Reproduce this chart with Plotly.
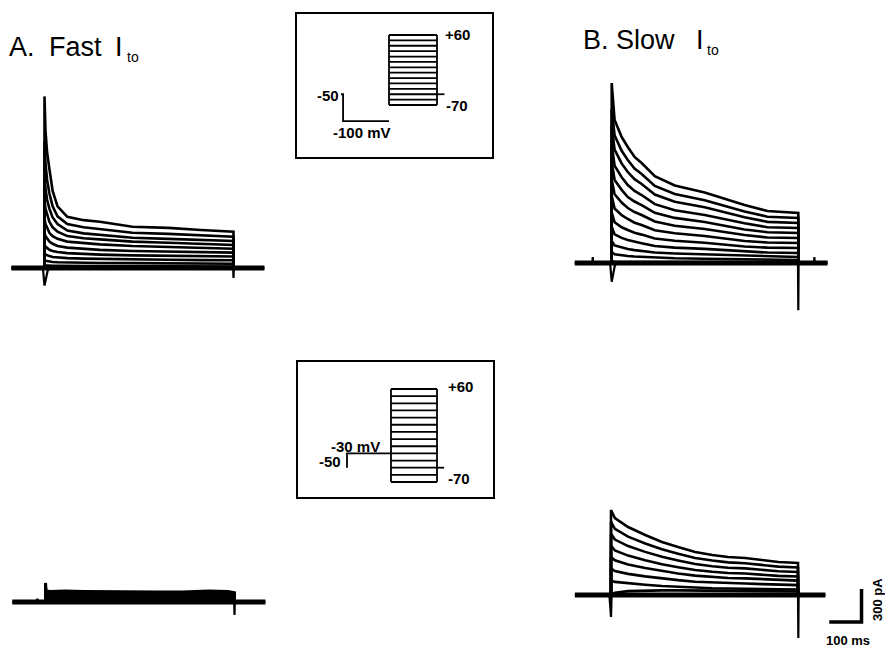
import plotly.graph_objects as go

W, H = 885, 647

# ---------------- data ----------------
STEP_MS = 580

# A. Fast Ito, top family (pA) on the time grid below (ms)
fastA_t_ms = [0, 3, 8, 15, 25, 40, 70, 120, 170, 270, 380, 480, 580]
fastA_pA = [
    [1560, 1250, 1050, 900, 700, 560, 465, 435, 420, 375, 365, 345, 330],
    [1150, 950, 800, 680, 560, 470, 400, 370, 355, 320, 310, 295, 285],
    [850, 720, 620, 540, 460, 400, 340, 315, 300, 275, 265, 255, 245],
    [620, 540, 480, 420, 370, 330, 290, 270, 260, 240, 230, 220, 210],
    [450, 400, 360, 320, 290, 265, 240, 225, 215, 200, 190, 180, 175],
    [320, 290, 265, 240, 220, 200, 185, 175, 165, 155, 150, 145, 140],
    [210, 195, 180, 165, 155, 145, 135, 128, 122, 115, 112, 108, 105],
    [130, 122, 115, 108, 100, 95, 90, 85, 82, 78, 75, 72, 70],
    [70, 66, 62, 58, 55, 52, 50, 48, 46, 44, 42, 40, 38],
    [25, 24, 22, 21, 20, 19, 18, 17, 17, 16, 15, 15, 14],
]
fastA_base_t = [-102, -5, 0, 10, 20, 579, 580, 581, 675]
fastA_base_pA = [0, 0, -160, -20, 0, 0, -90, 0, 0]

# B. Slow Ito, top family
slowB_t_ms = [0, 9, 31, 50, 71, 93, 134, 196, 289, 413, 484, 580]
slowB_pA = [
    [1636, 1300, 1145, 1055, 964, 909, 790, 705, 640, 527, 473, 455],
    [1400, 1160, 1020, 936, 858, 809, 700, 628, 570, 469, 421, 409],
    [1250, 1030, 905, 827, 762, 718, 622, 557, 506, 416, 374, 364],
    [1080, 885, 780, 709, 655, 618, 535, 480, 436, 362, 325, 318],
    [920, 755, 665, 600, 559, 527, 456, 410, 372, 305, 280, 273],
    [760, 625, 550, 500, 463, 436, 377, 339, 309, 255, 232, 227],
    [610, 495, 435, 400, 366, 345, 298, 270, 245, 200, 186, 182],
    [460, 370, 325, 300, 275, 258, 223, 202, 184, 150, 140, 136],
    [330, 260, 228, 209, 192, 180, 155, 140, 128, 105, 95, 91],
    [200, 160, 140, 127, 117, 110, 95, 86, 78, 64, 58, 55],
    [100, 80, 70, 64, 59, 55, 48, 43, 39, 32, 29, 27],
    [15, 10, 9, 9, 9, 9, 9, 9, 9, 9, 9, 9],
]
slowB_base_t = [-115, -60, -59, -58, -5, 0, 10, 20, 579, 580, 581, 629, 630, 631, 671]
slowB_base_pA = [0, 0, 55, 0, 0, -170, -20, 0, 0, -430, 0, 0, 55, 0, 0]

# A. Fast Ito after -30 mV prepulse (bottom)
fastA2_t_ms = [0, 2, 15, 60, 120, 200, 270, 350, 420, 500, 560, 580]
fastA2_pA = [
    [173, 100, 95, 100, 95, 92, 88, 90, 92, 100, 95, 85],
    [130, 85, 82, 85, 80, 78, 75, 78, 80, 88, 82, 74],
    [95, 70, 66, 68, 64, 62, 60, 62, 64, 70, 66, 58],
    [65, 52, 50, 52, 48, 46, 45, 47, 48, 53, 50, 44],
    [40, 35, 33, 34, 32, 31, 30, 31, 32, 36, 33, 29],
    [20, 18, 17, 18, 16, 15, 15, 16, 16, 18, 17, 15],
]
fastA2_base_t = [-102, -30, -25, -20, 579, 580, 581, 675]
fastA2_base_pA = [0, 0, 27, 0, 0, -118, 0, 0]

# B. Slow Ito after -30 mV prepulse (bottom)
slowB2_t_ms = [0, 12, 53, 106, 158, 208, 261, 314, 363, 416, 469, 519, 580]
slowB2_pA = [
    [773, 700, 618, 545, 482, 436, 391, 364, 345, 336, 318, 300, 291],
    [665, 602, 531, 469, 415, 375, 336, 313, 297, 289, 273, 258, 250],
    [557, 504, 445, 392, 347, 314, 282, 262, 248, 242, 229, 216, 210],
    [448, 406, 358, 316, 280, 253, 227, 211, 200, 195, 184, 174, 169],
    [348, 315, 278, 245, 217, 196, 176, 164, 155, 151, 143, 135, 131],
    [240, 217, 192, 169, 149, 135, 121, 113, 107, 104, 99, 93, 90],
    [131, 119, 105, 93, 82, 74, 66, 62, 59, 57, 54, 51, 50],
    [0, 20, 35, 40, 42, 42, 40, 38, 36, 35, 34, 33, 32],
]
slowB2_base_t = [-112, -5, 0, 1, 2, 580, 581, 582, 665]
slowB2_base_pA = [0, 0, -200, 0, 0, 0, -390, 0, 0]

# scale bar
scale_t_ms = [677, 777, 777]
scale_pA = [-245, -245, 55]

# voltage protocols (mV / ms)
step_levels_mV = [60, 50, 40, 30, 20, 10, 0, -10, -20, -30, -40, -50, -60, -70]
holding_mV = -50
prepulse_fast_mV = -100
prepulse_slow_mV = -30
hold_stub_ms = 25
prepulse_ms = 555
hold_tick_ms = 90

# ---------------- geometry helpers ----------------
def xdom(p0, p1):
    return [p0 / W, p1 / W]

def ydom(p0, p1):
    return [1 - p1 / H, 1 - p0 / H]

def ranges(box, onset_px, end_px, base_px, px_per_unit_y, x_units=STEP_MS, y_ref=0.0):
    x0, x1, y0, y1 = box
    pxms = (end_px - onset_px) / x_units
    xr = [(x0 - onset_px) / pxms, (x1 - onset_px) / pxms]
    yr = [y_ref + (base_px - y1) / px_per_unit_y, y_ref + (base_px - y0) / px_per_unit_y]
    return xr, yr

PX_PER_PA = 0.11

fig = go.Figure()
layout_axes = {}

def add_axes(idx, box, xr, yr, border=False):
    xa = dict(domain=xdom(box[0], box[1]), range=xr, visible=border, showgrid=False,
              zeroline=False, showticklabels=False, ticks='', fixedrange=True,
              anchor='y' if idx == 1 else f'y{idx}')
    ya = dict(domain=ydom(box[2], box[3]), range=yr, visible=border, showgrid=False,
              zeroline=False, showticklabels=False, ticks='', fixedrange=True,
              anchor='x' if idx == 1 else f'x{idx}')
    if border:
        for a in (xa, ya):
            a.update(showline=True, mirror=True, linecolor='black', linewidth=2)
    kx = 'xaxis' if idx == 1 else f'xaxis{idx}'
    ky = 'yaxis' if idx == 1 else f'yaxis{idx}'
    layout_axes[kx] = xa
    layout_axes[ky] = ya

def line(idx, x, y, width=2.0):
    fig.add_trace(go.Scatter(x=x, y=y, mode='lines',
                             line=dict(color='black', width=width, shape='linear'),
                             xaxis='x' if idx == 1 else f'x{idx}',
                             yaxis='y' if idx == 1 else f'y{idx}',
                             hoverinfo='skip', showlegend=False))

def family(idx, t, fam, base_t, base_pA, width=2.6):
    line(idx, [base_t[0], base_t[-1]], [0, 0], width=5)
    line(idx, base_t, base_pA, width=2.2)
    for vals in fam:
        line(idx, [0] + t + [t[-1]], [0] + vals + [0], width=width)

# panel 1: A top
box1 = (0, 272, 80, 300)
xr, yr = ranges(box1, 44.5, 233.5, 268, PX_PER_PA)
add_axes(1, box1, xr, yr)
family(1, fastA_t_ms, fastA_pA, fastA_base_t, fastA_base_pA)

# panel 2: B top
box2 = (560, 845, 70, 320)
xr, yr = ranges(box2, 611.7, 798.3, 263, PX_PER_PA)
add_axes(2, box2, xr, yr)
family(2, slowB_t_ms, slowB_pA, slowB_base_t, slowB_base_pA)

# panel 3: A bottom
box3 = (0, 272, 560, 630)
xr, yr = ranges(box3, 45.5, 234.5, 602, PX_PER_PA)
add_axes(3, box3, xr, yr)
family(3, fastA2_t_ms, fastA2_pA, fastA2_base_t, fastA2_base_pA, width=3)

# panel 4: B bottom (+ scale bar)
box4 = (560, 885, 490, 647)
xr, yr = ranges(box4, 611, 798, 595, PX_PER_PA)
add_axes(4, box4, xr, yr)
family(4, slowB2_t_ms, slowB2_pA, slowB2_base_t, slowB2_base_pA)
line(4, scale_t_ms, scale_pA, width=3.5)

# insets (voltage protocols)
def protocol(idx, box, step_x0_px, step_x1_px, top_px, bottom_px, prepulse_mV):
    pxmv = (bottom_px - top_px) / (max(step_levels_mV) - min(step_levels_mV))
    xr, yr = ranges(box, step_x0_px, step_x1_px, bottom_px, pxmv, y_ref=min(step_levels_mV))
    add_axes(idx, box, xr, yr, border=True)
    lw = 1.8
    if prepulse_mV < holding_mV:
        xs = [-prepulse_ms - hold_stub_ms, -prepulse_ms, -prepulse_ms, 0]
        ys = [holding_mV, holding_mV, prepulse_mV, prepulse_mV]
    else:
        xs = [-prepulse_ms, -prepulse_ms, 0]
        ys = [holding_mV, prepulse_mV, prepulse_mV]
    line(idx, xs, ys, width=lw)
    for v in step_levels_mV:
        line(idx, [0, STEP_MS], [v, v], width=lw)
    line(idx, [0, 0], [min(step_levels_mV), max(step_levels_mV)], width=lw)
    line(idx, [STEP_MS, STEP_MS], [min(step_levels_mV), max(step_levels_mV)], width=lw)
    line(idx, [STEP_MS, STEP_MS + hold_tick_ms], [holding_mV, holding_mV], width=lw)

protocol(5, (297, 492, 14, 157), 389, 437, 35, 105, prepulse_fast_mV)
protocol(6, (298, 493, 362, 497), 391, 437, 389, 482, prepulse_slow_mV)

# ---------------- text ----------------
def ann(text, xpx, ypx, size, xanchor='left', bold=False, angle=0):
    fig.add_annotation(text=f'<b>{text}</b>' if bold else text,
                       x=xpx / W, y=1 - ypx / H, xref='paper', yref='paper',
                       xanchor=xanchor, yanchor='middle', showarrow=False,
                       textangle=angle,
                       font=dict(family='Liberation Sans, Arial', size=size, color='black'))

# panel titles (letters spaced as in the reference)
ann('A.', 7, 47, 27)
ann('Fast', 47, 47, 27)
ann('I', 113, 47, 27)
ann('to', 125, 57, 14)
ann('B.', 581, 40, 27)
ann('Slow', 614, 40, 27)
ann('I', 694, 40, 27)
ann('to', 705, 50, 14)

ann('+60', 443, 35, 15, bold=True)
ann('-70', 444, 106, 15, bold=True)
ann('-50', 341, 95, 15, xanchor='right', bold=True)
ann('-100 mV', 362, 132, 15, xanchor='center', bold=True)

ann('+60', 446, 386, 15, bold=True)
ann('-70', 446, 478, 15, bold=True)
ann('-30 mV', 355, 446, 15, xanchor='center', bold=True)
ann('-50', 343, 461, 15, xanchor='right', bold=True)

ann('100 ms', 848, 640, 13, xanchor='center', bold=True)
ann('300 pA', 877, 600, 13, xanchor='center', bold=True, angle=-90)

fig.update_layout(width=W, height=H, margin=dict(l=0, r=0, t=0, b=0),
                  paper_bgcolor='white', plot_bgcolor='white', **layout_axes)

fig.write_html('out.html')
